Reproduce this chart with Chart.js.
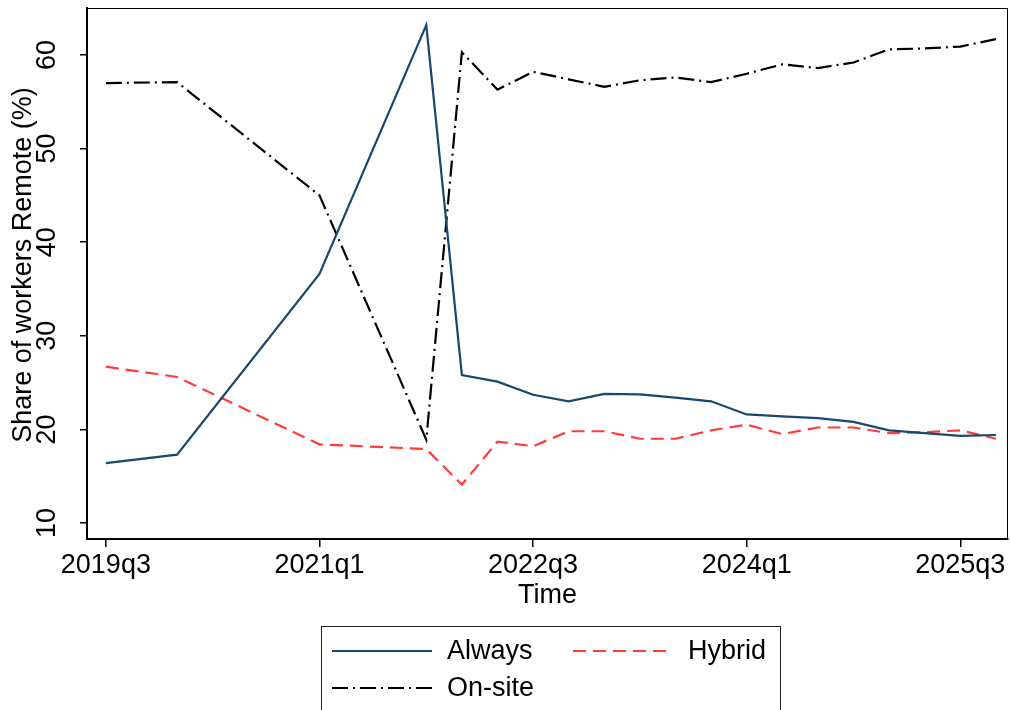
<!DOCTYPE html>
<html>
<head>
<meta charset="utf-8">
<script src="https://cdn.jsdelivr.net/npm/chart.js@4.4.0/dist/chart.umd.min.js"></script>
<style>
  html, body { margin: 0; padding: 0; background: #fff; }
</style>
</head>
<body>
<canvas id="grafico" width="1011" height="710"></canvas>
<script>
const quarters = [
  "2019q3", "2020q1", "2021q1", "2021q4", "2022q1", "2022q2", "2022q3", "2022q4",
  "2023q1", "2023q2", "2023q3", "2023q4", "2024q1", "2024q2", "2024q3", "2024q4",
  "2025q1", "2025q2", "2025q3", "2025q4"
];
const always = [16.4, 17.3, 36.6, 63.2, 25.8, 25.1, 23.7, 23.0, 23.8, 23.75,
  23.4, 23.0, 21.6, 21.4, 21.2, 20.8, 19.9, 19.6, 19.3, 19.4];
const hybrid = [26.7, 25.6, 18.4, 17.9, 14.1, 18.7, 18.2, 19.8, 19.8, 19.0,
  19.0, 19.9, 20.5, 19.5, 20.2, 20.2, 19.6, 19.7, 19.9, 19.0];
const onsite = [57.0, 57.1, 45.0, 18.9, 60.3, 56.3, 58.2, 57.4, 56.6, 57.3,
  57.6, 57.1, 58.0, 59.0, 58.6, 59.2, 60.6, 60.7, 60.9, 61.7];
const xTicks = ["2019q3", "2021q1", "2022q3", "2024q1", "2025q3"];
const yTicks = [10, 20, 30, 40, 50, 60];
const yTitle = "Share of workers Remote (%)";

// quarter index counted from 2019q3
const qIndex = (s) => (parseInt(s.slice(0, 4)) - 2019) * 4 + parseInt(s.slice(5)) - 3;
const qLabel = (i) => {
  const n = i + 2;
  return (2019 + Math.floor(n / 4)) + "q" + ((n % 4) + 1);
};
const pts = (vals) => vals.map((v, i) => ({ x: qIndex(quarters[i]), y: v }));

const FONT = '"Liberation Sans", Arial, sans-serif';

const extras = {
  id: "extras",
  afterDraw(chart) {
    const ctx = chart.ctx;
    const a = chart.chartArea;
    const y = chart.scales.y;
    ctx.save();
    // thin frame round the plot
    ctx.strokeStyle = "#000";
    ctx.lineWidth = 1;
    ctx.strokeRect(a.left + 0.5, a.top + 0.5, a.right - a.left - 1, a.bottom - a.top);

    // y tick labels and title, rotated like the original
    ctx.fillStyle = "#000";
    ctx.textAlign = "center";
    ctx.textBaseline = "middle";
    ctx.font = "27px " + FONT;
    y.ticks.forEach((t) => {
      const py = y.getPixelForValue(t.value);
      ctx.save();
      ctx.translate(48, py);
      ctx.rotate(-Math.PI / 2);
      ctx.fillText(String(t.value), 0, 0);
      ctx.restore();
    });
    ctx.save();
    ctx.font = "27px " + FONT;
    ctx.translate(24, 265);
    ctx.rotate(-Math.PI / 2);
    ctx.fillText(yTitle, 0, 0);
    ctx.restore();

    // legend box: two columns
    ctx.strokeStyle = "#222";
    ctx.lineWidth = 1;
    ctx.strokeRect(321.5, 626.5, 459, 120);
    const slots = [
      { x: 332, y: 651 },
      { x: 573, y: 651 },
      { x: 332, y: 688 },
    ];
    ctx.font = "27px " + FONT;
    ctx.textAlign = "left";
    chart.data.datasets.forEach((ds, k) => {
      const s = slots[k];
      ctx.save();
      ctx.strokeStyle = ds.borderColor;
      ctx.lineWidth = ds.borderWidth;
      ctx.setLineDash(ds.borderDash || []);
      ctx.beginPath();
      ctx.moveTo(s.x, s.y);
      ctx.lineTo(s.x + 100, s.y);
      ctx.stroke();
      ctx.restore();
      ctx.fillStyle = "#000";
      ctx.fillText(ds.label, s.x + 115, s.y + 1);
    });
    ctx.restore();
  },
};

const ctx1 = document.getElementById("grafico").getContext("2d");
new Chart(ctx1, {
  type: "line",
  data: {
    datasets: [
      {
        label: "Always",
        data: pts(always),
        borderColor: "#1a476f",
        borderWidth: 2.2,
      },
      {
        label: "Hybrid",
        data: pts(hybrid),
        borderColor: "#ff3b3b",
        borderWidth: 2.2,
        borderDash: [13, 7],
      },
      {
        label: "On-site",
        data: pts(onsite),
        borderColor: "#000",
        borderWidth: 2.2,
        borderDash: [16, 5, 2, 5],
      },
    ],
  },
  options: {
    responsive: false,
    animation: false,
    devicePixelRatio: 1,
    layout: { padding: { top: 8, right: 3, bottom: 96, left: 0 } },
    elements: { point: { radius: 0 }, line: { tension: 0 } },
    plugins: { legend: { display: false }, tooltip: { enabled: false } },
    scales: {
      x: {
        type: "linear",
        min: -0.53,
        max: 25.34,
        afterBuildTicks: (s) => { s.ticks = xTicks.map((t) => ({ value: qIndex(t) })); },
        afterFit: (s) => { s.height = 75; },
        border: { display: true, color: "#000", width: 2 },
        grid: { drawOnChartArea: false, drawTicks: true, tickLength: 8, color: "#000", lineWidth: 1.5 },
        ticks: {
          color: "#000",
          padding: 2,
          maxRotation: 0,
          font: { family: FONT, size: 27 },
          callback: (v) => qLabel(v),
        },
        title: {
          display: true,
          text: "Time",
          color: "#000",
          font: { family: FONT, size: 27 },
          padding: { top: 0, bottom: 2 },
        },
      },
      y: {
        min: 8.29,
        max: 65.02,
        afterBuildTicks: (s) => { s.ticks = yTicks.map((v) => ({ value: v })); },
        afterFit: (s) => { s.width = 87; },
        border: { display: true, color: "#000", width: 2 },
        grid: { drawOnChartArea: false, drawTicks: true, tickLength: 7, color: "#000", lineWidth: 1.5 },
        ticks: { display: false },
      },
    },
  },
  plugins: [extras],
});
</script>
</body>
</html>
